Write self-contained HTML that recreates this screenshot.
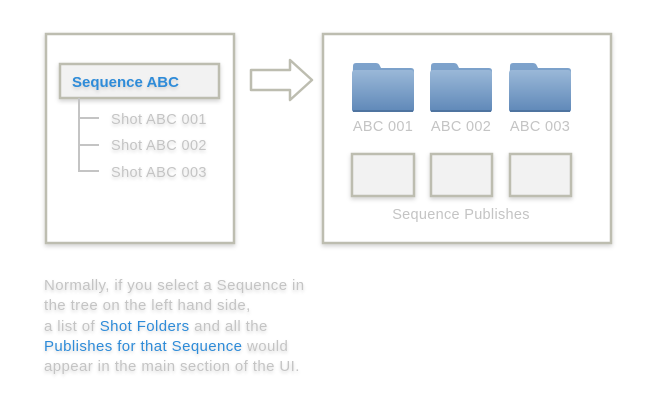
<!DOCTYPE html>
<html><head><meta charset="utf-8"><style>
body{margin:0;background:#fff;}
svg{display:block;}
text{font-family:"Liberation Sans",sans-serif;}
</style></head><body>
<svg width="650" height="400" viewBox="0 0 650 400" xmlns="http://www.w3.org/2000/svg">
<defs>
<filter id="sh" x="-20%" y="-20%" width="140%" height="140%"><feDropShadow dx="0" dy="2" stdDeviation="2" flood-color="#000" flood-opacity="0.18"/></filter>
<filter id="ts" x="-10%" y="-30%" width="120%" height="160%"><feDropShadow dx="0" dy="2" stdDeviation="1.5" flood-color="#000" flood-opacity="0.15"/></filter>
<linearGradient id="fg" x1="0" y1="0" x2="0" y2="1"><stop offset="0" stop-color="#9ab8d8"/><stop offset="1" stop-color="#5f88b8"/></linearGradient>
<linearGradient id="fb" x1="0" y1="0" x2="0" y2="1"><stop offset="0" stop-color="#7ea3cc"/><stop offset="1" stop-color="#6c93c0"/></linearGradient>
<g id="folder">
<path d="M1 3 Q1 0 4 0 H24 Q27 0 28 3 L29 5 H59 Q62 5 62 8 V46 Q62 49 59 49 H3 Q0 49 0 46 Z" fill="url(#fb)"/>
<path d="M0 10 Q0 7 3 7 H59 Q62 7 62 10 V46 Q62 49 59 49 H3 Q0 49 0 46 Z" fill="url(#fg)"/>
<rect x="1" y="47" width="60" height="2" fill="#4f74a0"/>
</g>
</defs>
<rect x="46" y="34" width="188" height="209" fill="#fff" stroke="#bdbdb0" stroke-width="2.5" filter="url(#sh)"/>
<rect x="60" y="64" width="159" height="34" fill="#f2f2f2" stroke="#bdbdb0" stroke-width="2.5" filter="url(#sh)"/>
<text x="72" y="87" font-size="15" font-weight="bold" fill="#2e8bd8" filter="url(#ts)">Sequence ABC</text>
<path d="M79 98 V171 H99 M79 118 H99 M79 145 H99" fill="none" stroke="#c4c4c4" stroke-width="2"/>
<g font-size="14.5" fill="#c4c4c4" filter="url(#ts)" letter-spacing="0.4">
<text x="111" y="124">Shot ABC 001</text>
<text x="111" y="150">Shot ABC 002</text>
<text x="111" y="177">Shot ABC 003</text>
</g>
<path d="M251 70 H290 V60 L312 80 L290 100 V90 H251 Z" fill="#fff" stroke="#bdbdb0" stroke-width="2.5" stroke-linejoin="round"/>
<rect x="323" y="34" width="288" height="209" fill="#fff" stroke="#bdbdb0" stroke-width="2.5" filter="url(#sh)"/>
<use href="#folder" x="352" y="63"/>
<use href="#folder" x="430" y="63"/>
<use href="#folder" x="509" y="63"/>
<g font-size="14.5" fill="#c4c4c4" letter-spacing="0.3">
<text x="383" y="131" text-anchor="middle">ABC 001</text>
<text x="461" y="131" text-anchor="middle">ABC 002</text>
<text x="540" y="131" text-anchor="middle">ABC 003</text>
<text x="461" y="219" text-anchor="middle">Sequence Publishes</text>
</g>
<g fill="#f2f2f2" stroke="#bdbdb0" stroke-width="2.5" filter="url(#sh)">
<rect x="352" y="154" width="62" height="42"/>
<rect x="431" y="154" width="61" height="42"/>
<rect x="510" y="154" width="61" height="42"/>
</g>
<g font-size="15" fill="#c4c4c4" filter="url(#ts)" letter-spacing="0.4">
<text x="44" y="290">Normally, if you select a Sequence in</text>
<text x="44" y="310">the tree on the left hand side,</text>
<text x="44" y="331">a list of <tspan fill="#2e8bd8">Shot Folders</tspan> and all the</text>
<text x="44" y="351"><tspan fill="#2e8bd8">Publishes for that Sequence</tspan> would</text>
<text x="44" y="371">appear in the main section of the UI.</text>
</g>
</svg>
</body></html>
